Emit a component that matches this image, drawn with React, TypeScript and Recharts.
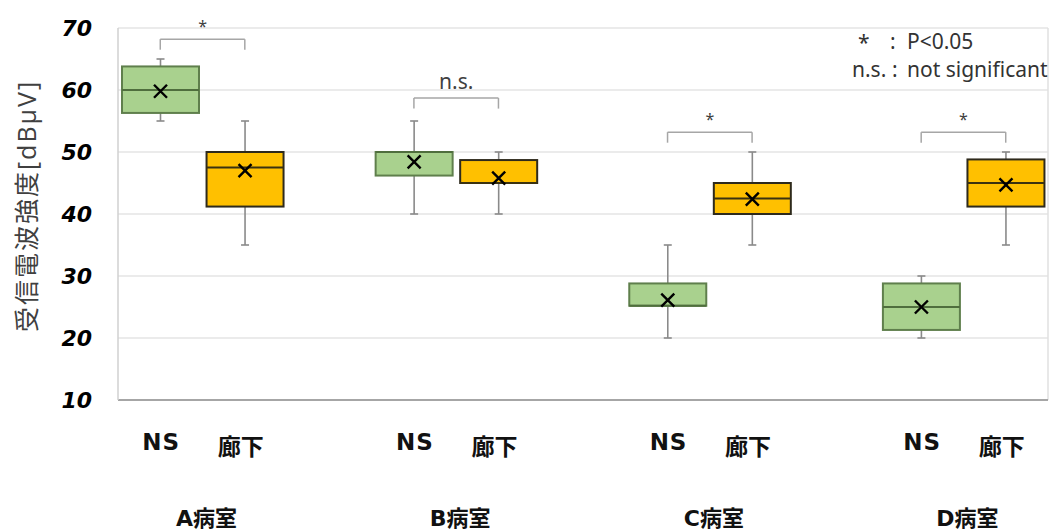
import { Bar, CartesianGrid, ComposedChart, ReferenceLine, XAxis, YAxis } from 'recharts'

const rooms = ['A病室', 'B病室', 'C病室', 'D病室']
const locations = ['NS', '廊下']
const significance = ['*', 'n.s.', '*', '*']
const bracketLevel = [68.2, 58.7, 53.2, 53.2]

// NS (green)
const nsMin = [55, 40, 20, 20]
const nsQ1 = [56.3, 46.2, 25.2, 21.3]
const nsMedian = [60, 50, 25.2, 25]
const nsQ3 = [63.8, 50, 28.8, 28.8]
const nsMax = [65, 55, 35, 30]
const nsMean = [59.8, 48.4, 26.1, 25]

// 廊下 (orange)
const corMin = [35, 40, 35, 35]
const corQ1 = [41.2, 45, 40, 41.2]
const corMedian = [47.5, 45, 42.5, 45]
const corQ3 = [50, 48.7, 45, 48.8]
const corMax = [55, 50, 50, 50]
const corMean = [47, 45.8, 42.4, 44.7]

const yTicks = [10, 20, 30, 40, 50, 60, 70]

const palette = {
  ns: { fill: '#a9d18e', stroke: '#5f7f4c', median: '#4f6e3d' },
  cor: { fill: '#ffc000', stroke: '#2e2a1c', median: '#3b3210' },
}

interface Stats {
  min: number
  q1: number
  median: number
  q3: number
  max: number
  mean: number
}

interface SlotRow {
  slot: string
  pos: number
  label: string
  kind?: 'ns' | 'cor'
  range?: [number, number] | null
  stats?: Stats
}

const slots: SlotRow[] = []
rooms.forEach((room, i) => {
  const ns: Stats = { min: nsMin[i], q1: nsQ1[i], median: nsMedian[i], q3: nsQ3[i], max: nsMax[i], mean: nsMean[i] }
  const cor: Stats = { min: corMin[i], q1: corQ1[i], median: corMedian[i], q3: corQ3[i], max: corMax[i], mean: corMean[i] }
  slots.push({ slot: `${room}|${locations[0]}`, pos: 0, label: locations[0], kind: 'ns', range: [ns.min, ns.max], stats: ns })
  slots.push({ slot: `${room}|${locations[1]}`, pos: 0, label: locations[1], kind: 'cor', range: [cor.min, cor.max], stats: cor })
  if (i < rooms.length - 1) slots.push({ slot: `gap${i}`, pos: 0, label: '', range: null })
})
// centre of each slot on the numeric helper axis (domain 0..slots.length)
slots.forEach((s, n) => (s.pos = n + 0.5))

const labelById: Record<string, string> = {}
slots.forEach((s) => (labelById[s.slot] = s.label))

function BoxShape(props: any) {
  const { x, y, width, height, payload } = props
  if (!payload || !payload.stats) return null
  const s: Stats = payload.stats
  const c = palette[payload.kind as 'ns' | 'cor']
  const top = Math.min(y, y + height)
  const h = Math.abs(height)
  const k = h / (s.max - s.min)
  const py = (v: number) => top + (s.max - v) * k
  const cx = x + width / 2
  const cap = 4
  const m = 6.5
  return (
    <g>
      <line x1={cx} x2={cx} y1={py(s.max)} y2={py(s.q3)} stroke="#8a8a8a" strokeWidth={1.6} />
      <line x1={cx} x2={cx} y1={py(s.q1)} y2={py(s.min)} stroke="#8a8a8a" strokeWidth={1.6} />
      <line x1={cx - cap} x2={cx + cap} y1={py(s.max)} y2={py(s.max)} stroke="#8a8a8a" strokeWidth={1.6} />
      <line x1={cx - cap} x2={cx + cap} y1={py(s.min)} y2={py(s.min)} stroke="#8a8a8a" strokeWidth={1.6} />
      <rect x={x} y={py(s.q3)} width={width} height={py(s.q1) - py(s.q3)} fill={c.fill} stroke={c.stroke} strokeWidth={2} />
      <line x1={x} x2={x + width} y1={py(s.median)} y2={py(s.median)} stroke={c.median} strokeWidth={2} />
      <path
        d={`M${cx - m},${py(s.mean) - m}L${cx + m},${py(s.mean) + m}M${cx - m},${py(s.mean) + m}L${cx + m},${py(s.mean) - m}`}
        stroke="#000"
        strokeWidth={2.4}
      />
    </g>
  )
}

function SlotTick(props: any) {
  const { x, y, payload } = props
  const label = labelById[payload.value] || ''
  if (!label) return null
  const isNs = label === locations[0]
  return (
    <text
      x={x + (isNs ? 1 : -4)}
      y={y + (isNs ? 40 : 45)}
      textAnchor="middle"
      dominantBaseline="central"
      fontFamily="'DejaVu Sans', 'Noto Sans CJK JP'"
      fontWeight="bold"
      fontSize={23}
      letterSpacing={isNs ? 1 : 0}
      fill="#111"
    >
      {label}
    </text>
  )
}

function RoomTick(props: any) {
  const { x, y, payload } = props
  const idx = Math.round((payload.value - 1) / 3)
  return (
    <text
      x={x + 4}
      y={y + 46}
      textAnchor="middle"
      dominantBaseline="central"
      fontFamily="'DejaVu Sans', 'Noto Sans CJK JP'"
      fontWeight="bold"
      fontSize={22}
      fill="#111"
    >
      {rooms[idx]}
    </text>
  )
}

function YTitle(props: any) {
  const { viewBox } = props
  const cy = viewBox.y + viewBox.height / 2 - 8
  const cx = 26
  return (
    <text
      x={cx}
      y={cy}
      transform={`rotate(-90 ${cx} ${cy})`}
      textAnchor="middle"
      dominantBaseline="central"
      fontFamily="'Open Sans', 'Noto Sans CJK JP'"
      fontSize={25}
      letterSpacing={2}
      fill="#404040"
    >
      受信電波強度[dBμV]
    </text>
  )
}

const bracketStroke = '#a6a6a6'

export default function App() {
  const roomTicks = rooms.map((_, i) => i * 3 + 1)
  return (
    <div style={{ position: 'absolute', left: 0, top: 0, width: 1054, height: 531, background: '#fff' }}>
      <ComposedChart width={1054} height={531} data={slots} margin={{ top: 28, right: 6, bottom: 0, left: 0 }} barSize={77}>
        <CartesianGrid vertical={false} stroke="#e4e4e4" strokeWidth={1.5} />
        <XAxis
          dataKey="slot"
          height={70}
          tickLine={false}
          tickSize={0}
          axisLine={{ stroke: '#a6a6a6', strokeWidth: 2 }}
          tick={<SlotTick />}
          interval={0}
        />
        <XAxis
          xAxisId="grp"
          dataKey="pos"
          type="number"
          domain={[0, slots.length]}
          ticks={roomTicks}
          height={61}
          axisLine={false}
          tickLine={false}
          tickSize={0}
          tick={<RoomTick />}
          allowDataOverflow
        />
        <YAxis
          domain={[10, 70]}
          ticks={yTicks}
          width={118}
          tickLine={false}
          tickSize={0}
          tickMargin={26}
          axisLine={{ stroke: '#d0d0d0', strokeWidth: 1.5 }}
          tick={{ fontFamily: 'DejaVu Sans', fontWeight: 'bold', fontStyle: 'italic', fontSize: 22, fill: '#000' }}
          label={<YTitle />}
        />
        <ReferenceLine xAxisId="grp" x={slots.length} stroke="#e0e0e0" strokeWidth={1.5} />
        <Bar dataKey="range" shape={<BoxShape />} isAnimationActive={false} />
        {rooms.map((room, i) => {
          const a = slots[i * 3].pos
          const b = slots[i * 3 + 1].pos
          const lv = bracketLevel[i]
          const drop = 1.7
          const isStar = significance[i] === '*'
          return [
            <ReferenceLine
              key={`${room}-h`}
              xAxisId="grp"
              segment={[{ x: a, y: lv }, { x: b, y: lv }]}
              stroke={bracketStroke}
              strokeWidth={1.5}
              label={{
                value: significance[i],
                position: 'top',
                offset: isStar ? 7 : 9,
                fill: '#404040',
                fontSize: isStar ? 16 : 21,
                fontFamily: 'Noto Sans',
              }}
            />,
            <ReferenceLine key={`${room}-l`} xAxisId="grp" segment={[{ x: a, y: lv }, { x: a, y: lv - drop }]} stroke={bracketStroke} strokeWidth={1.5} />,
            <ReferenceLine key={`${room}-r`} xAxisId="grp" segment={[{ x: b, y: lv }, { x: b, y: lv - drop }]} stroke={bracketStroke} strokeWidth={1.5} />,
          ]
        })}
      </ComposedChart>
      <div
        style={{
          position: 'absolute',
          left: 0,
          top: 0,
          fontFamily: 'Noto Sans',
          fontSize: 21,
          color: '#333',
          lineHeight: 1,
        }}
      >
        <span style={{ position: 'absolute', left: 858, top: 32 }}>*</span>
        <span style={{ position: 'absolute', left: 890, top: 31 }}>:</span>
        <span style={{ position: 'absolute', left: 907, top: 31, whiteSpace: 'nowrap' }}>P&lt;0.05</span>
        <span style={{ position: 'absolute', left: 852, top: 59, whiteSpace: 'nowrap' }}>n.s.</span>
        <span style={{ position: 'absolute', left: 892, top: 59 }}>:</span>
        <span style={{ position: 'absolute', left: 907, top: 59, whiteSpace: 'nowrap' }}>not significant</span>
      </div>
    </div>
  )
}
